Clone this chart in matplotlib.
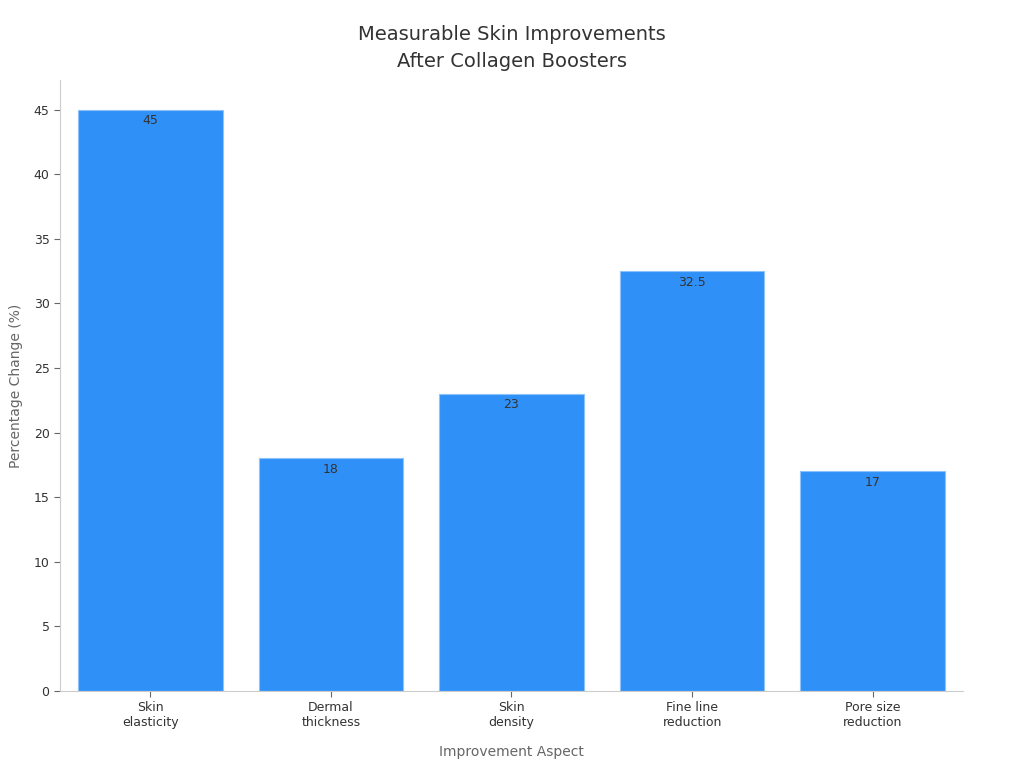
import matplotlib
matplotlib.use("Agg")
import matplotlib.pyplot as plt

categories = ["Skin\nelasticity", "Dermal\nthickness", "Skin\ndensity", "Fine line\nreduction", "Pore size\nreduction"]
values = [45, 18, 23, 32.5, 17]
value_labels = ["45", "18", "23", "32.5", "17"]
yticks = [0, 5, 10, 15, 20, 25, 30, 35, 40, 45]

plt.rcParams['font.family'] = ['DejaVu Sans']
fig = plt.figure(figsize=(10.24, 7.68), dpi=100)
ax = fig.add_axes([0.0586, 0.1003, 0.8818, 0.7955])

x = list(range(len(categories)))
bars = ax.bar(x, values, width=0.8, color="#2F91F7", edgecolor="#8CC3FA", linewidth=0.8)
for xi, v, lab in zip(x, values, value_labels):
    ax.text(xi, v - 0.35, lab, ha="center", va="top", fontsize=9, color="#333333")

ax.set_xlim(-0.5, 4.5)
ax.set_ylim(0, 47.3)
ax.set_xticks(x)
ax.set_xticklabels(categories, fontsize=9, color="#333333")
ax.set_yticks(yticks)
ax.set_yticklabels([str(t) for t in yticks], fontsize=9, color="#333333")
ax.tick_params(axis="both", colors="#666666", labelcolor="#333333", length=4)

for s in ["top", "right"]:
    ax.spines[s].set_visible(False)
for s in ["left", "bottom"]:
    ax.spines[s].set_color("#CCCCCC")

ax.set_xlabel("Improvement Aspect", fontsize=10, color="#666666", labelpad=11)
ax.set_ylabel("Percentage Change (%)", fontsize=10, color="#666666", labelpad=8)
fig.suptitle("Measurable Skin Improvements\nAfter Collagen Boosters", fontsize=14, color="#333333",
             y=0.968, linespacing=1.55)

fig.savefig("out.png", dpi=100)
